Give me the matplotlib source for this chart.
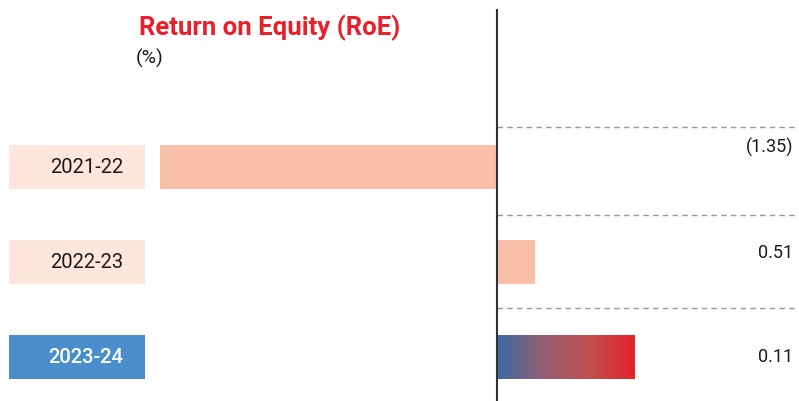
import numpy as np
import matplotlib.pyplot as plt
from matplotlib.colors import LinearSegmentedColormap

years = ['2021-22', '2022-23', '2023-24']
# bar lengths as drawn in the picture, and the printed labels
bar_values = [-1.35, 0.15, 0.55]
value_labels = ['(1.35)', '0.51', '0.11']
label_offsets = [-0.21, -0.1, 0.0]
separators = [-0.42, 0.5, 1.48]

plt.rcParams['font.family'] = ['Roboto', 'DejaVu Sans']

fig = plt.figure(figsize=(7.99, 4.01), dpi=100)
ax = fig.add_axes([0, 0, 1, 1])
ax.set_xlim(-1.988, 1.208)
ax.set_ylim(2.463, -1.758)
ax.axis('off')

y = np.arange(len(years))
h = 0.465
pink = '#FABFA9'
light = '#FDE6DC'
blue = '#4A8FCB'

# year label boxes
box_left, box_w = -1.952, 0.544
for i, yr in enumerate(years):
    last = i == len(years) - 1
    ax.barh(y[i], box_w, left=box_left, height=h, color=blue if last else light)
    ax.text(box_left + box_w - 0.088, y[i], yr, ha='right', va='center',
            fontsize=14.5, color='white' if last else '#1a1a1a',
            fontweight='medium' if last else 'normal')

# bars
cmap = LinearSegmentedColormap.from_list('rg', ['#3B6AA6', '#945E70', '#C05050', '#E4232A'])
for i, v in enumerate(bar_values):
    if i < len(years) - 1:
        ax.barh(y[i], v, height=h, color=pink)
    else:
        b = ax.barh(y[i], v, height=h, color='none')[0]
        grad = np.linspace(0, 1, 256).reshape(1, -1)
        im = ax.imshow(grad, cmap=cmap, aspect='auto',
                       extent=[0, v, y[i] + h / 2, y[i] - h / 2], zorder=2)
        im.set_clip_path(b)

# value labels
for i, lab in enumerate(value_labels):
    ax.text(1.184, y[i] + label_offsets[i], lab, ha='right', va='center',
            fontsize=13, color='#1a1a1a')

# separators
for s in separators:
    ax.plot([0, 1.19], [s, s], color='#999999', lw=1, ls=(0, (4, 3)))

# zero axis
ax.plot([0, 0], [-1.653, 2.463], color='#333333', lw=1.5, zorder=3)

# titles
fig.text(139 / 799, 1 - 28 / 401, 'Return on Equity (RoE)', ha='left', va='center',
         fontsize=18.5, fontweight='bold', color='#E8202A')
fig.text(136 / 799, 1 - 58 / 401, '(%)', ha='left', va='center',
         fontsize=14, color='#1a1a1a')

fig.savefig('out.png', dpi=100)
